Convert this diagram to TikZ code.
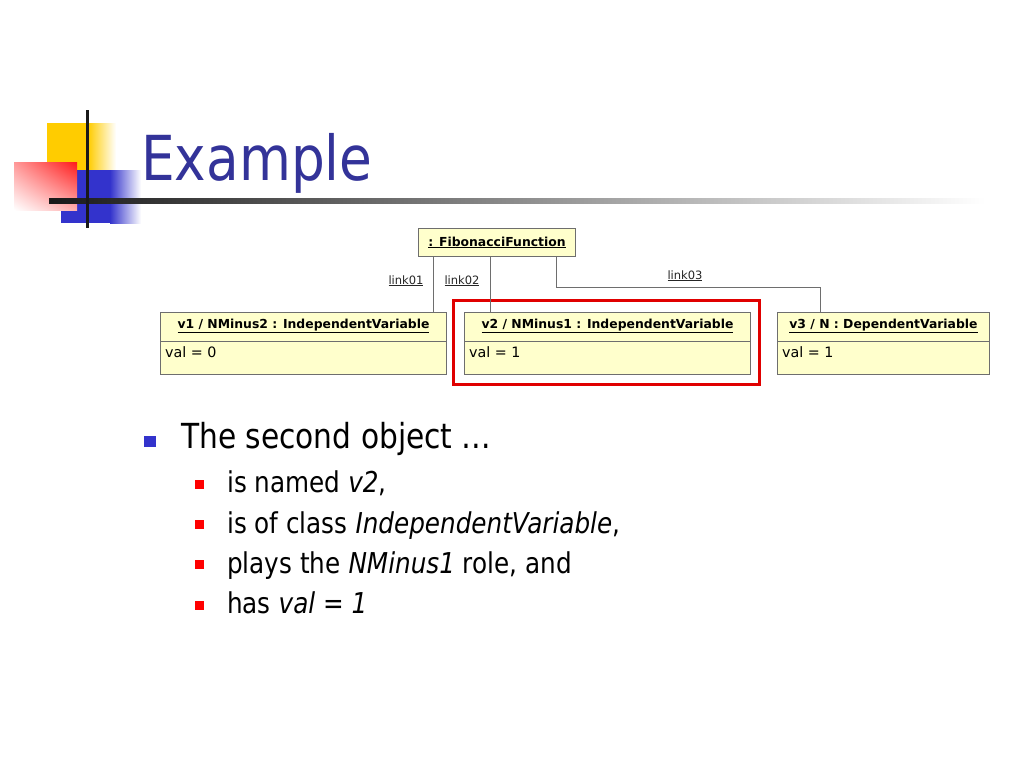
\documentclass[tikz,border=0pt]{standalone}
\usepackage{fontspec}
\usetikzlibrary{shadings}
\setmainfont{DejaVu Sans}[FakeStretch=0.86]
\newfontfamily\dgfont{DejaVu Sans}
\definecolor{titleblue}{HTML}{333399}
\definecolor{bulletblue}{HTML}{3333CC}
\definecolor{decoyellow}{HTML}{FFCC00}
\definecolor{decored}{HTML}{FF1A1A}
\definecolor{decoblue}{HTML}{3333CC}
\definecolor{boxfill}{HTML}{FFFFCC}
\definecolor{boxgray}{HTML}{6E6E6E}
\definecolor{hlred}{HTML}{E00000}
\begin{document}
\begin{tikzpicture}[x=1pt,y=-1pt,
  objbox/.style={draw=boxgray, fill=boxfill, line width=1pt, inner sep=0pt, anchor=north west},
  hdr/.style={font=\dgfont\bfseries\fontsize{12.4}{14}\selectfont, anchor=base, inner sep=0pt},
  attr/.style={font=\dgfont\fontsize{14.3}{16}\selectfont, anchor=base west, inner sep=0pt},
  lnk/.style={draw=boxgray, line width=1pt},
  lnklbl/.style={font=\dgfont\fontsize{11.5}{13}\selectfont, anchor=base, inner sep=0pt, text=black!85},
  hlbox/.style={draw=hlred, line width=3pt, inner sep=0pt, anchor=north west},
  mainbul/.style={fill=bulletblue, minimum width=12pt, minimum height=11pt, inner sep=0pt},
  subbul/.style={fill=red, minimum size=8.5pt, inner sep=0pt},
  maintxt/.style={font=\fontsize{34.5}{40}\selectfont, anchor=base west, inner sep=0pt},
  subtxt/.style={font=\fontsize{28.7}{34}\selectfont, anchor=base west, inner sep=0pt}
]
\useasboundingbox[fill=white] (0,0) rectangle (1024,768);

% ---- decoration ----
\fill[decoyellow] (47,123) rectangle (88,170);
\shade[left color=decoyellow, right color=white] (88,123) rectangle (116,170);
\fill[decoblue] (61,170) rectangle (110,223);
\shade[left color=decoblue, right color=white] (110,170) rectangle (141,223);
\shade[upper left=decored!45!white, upper right=decored, lower left=white, lower right=decored!35!white] (14,162) rectangle (77,210);
\shade[left color=black!90, right color=white] (49,198) rectangle (985,203);
\fill[black!90] (86,110) rectangle (89,228);

% ---- title ----
\node[anchor=base west, inner sep=0pt, text=titleblue, font=\fontsize{62}{70}\selectfont] (title) at (141,180) {Example};

% ---- object diagram ----
\node[objbox, minimum width=157pt, minimum height=28pt] (fib) at (418,228) {};
\node[hdr] (fibt) at ([yshift=-18pt]fib.north) {\underline{: FibonacciFunction}};

\node[objbox, minimum width=286pt, minimum height=62pt] (v1) at (160,312) {};
\draw[lnk] ([yshift=-29pt]v1.north west) -- ([yshift=-29pt]v1.north east);
\node[hdr] (v1t) at ([yshift=-16pt]v1.north) {\underline{v1 / NMinus2 : IndependentVariable}};
\node[attr] (v1a) at ([xshift=5pt,yshift=-45pt]v1.north west) {val = 0};

\node[objbox, minimum width=286pt, minimum height=62pt] (v2) at (464,312) {};
\draw[lnk] ([yshift=-29pt]v2.north west) -- ([yshift=-29pt]v2.north east);
\node[hdr] (v2t) at ([yshift=-16pt]v2.north) {\underline{v2 / NMinus1 : IndependentVariable}};
\node[attr] (v2a) at ([xshift=5pt,yshift=-45pt]v2.north west) {val = 1};

\node[objbox, minimum width=212pt, minimum height=62pt] (v3) at (777,312) {};
\draw[lnk] ([yshift=-29pt]v3.north west) -- ([yshift=-29pt]v3.north east);
\node[hdr] (v3t) at ([yshift=-16pt]v3.north) {\underline{v3 / N : DependentVariable}};
\node[attr] (v3a) at ([xshift=5pt,yshift=-45pt]v3.north west) {val = 1};

\node[hlbox, minimum width=306pt, minimum height=84pt] (hl) at (452,298.5) {};

\draw[lnk] ([xshift=15pt]fib.south west) -- ([xshift=15pt]fib.south west |- v1.north);
\draw[lnk] ([xshift=72pt]fib.south west) -- ([xshift=72pt]fib.south west |- v2.north);
\draw[lnk] ([xshift=138pt]fib.south west) -- ++(0,30) -| ([xshift=43pt]v3.north west);

\node[lnklbl] (l1) at (406,284) {\underline{link01}};
\node[lnklbl] (l2) at (462,284) {\underline{link02}};
\node[lnklbl] (l3) at (685,279) {\underline{link03}};

% ---- bullets ----
\node[mainbul] (b0) at (150,441.5) {};
\node[maintxt] (t0) at (181,448) {The second object …};

\node[subbul] (b1) at (199.5,484.5) {};
\node[subtxt] (t1) at (227,492) {is named \textit{v2},};
\node[subbul] (b2) at (199.5,524.5) {};
\node[subtxt] (t2) at (227,533) {is of class \textit{IndependentVariable},};
\node[subbul] (b3) at (199.5,564.5) {};
\node[subtxt] (t3) at (227,573) {plays the \textit{NMinus1} role, and};
\node[subbul] (b4) at (199.5,605.5) {};
\node[subtxt] (t4) at (227,613) {has \textit{val = 1}};
\end{tikzpicture}
\end{document}
